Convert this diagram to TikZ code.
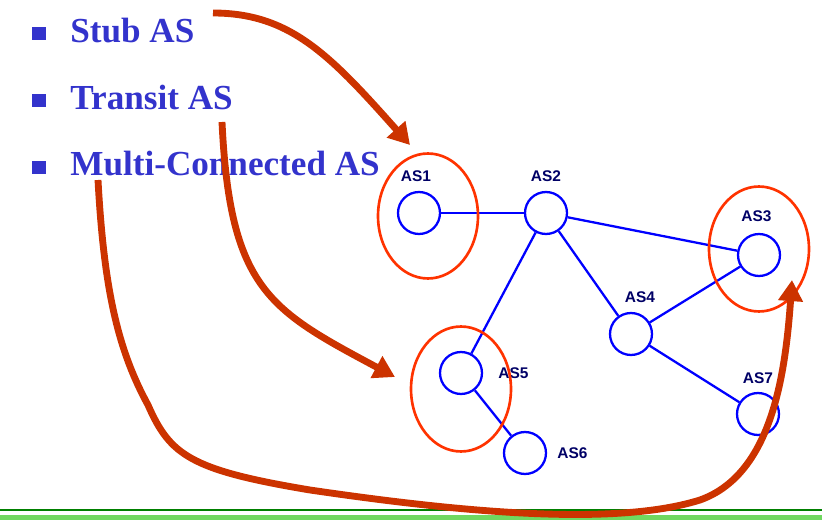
\documentclass[tikz,border=0pt]{standalone}
\usepackage{fontspec}
\setmainfont{Liberation Serif}
\newfontfamily\asfont{Liberation Sans}
\usetikzlibrary{positioning, shapes.geometric, arrows.meta}
\definecolor{itemblue}{HTML}{3333CC}
\definecolor{netblue}{HTML}{0000FF}
\definecolor{asnavy}{HTML}{000066}
\definecolor{arrred}{HTML}{CC3300}
\definecolor{ringred}{HTML}{FF3300}
\definecolor{rulegreen}{HTML}{008000}
\definecolor{bandgreen}{HTML}{70D860}
\tikzset{asnode/.style={circle, draw=netblue, line width=1.3pt, minimum size=0.84cm, inner sep=0}}
\tikzset{aslabel/.style={text=asnavy, font=\asfont\bfseries\fontsize{8.8}{10}\selectfont, inner sep=0}}
\tikzset{aslink/.style={draw=netblue, line width=1.3pt}}
\tikzset{ring/.style={ellipse, draw=ringred, line width=1.5pt, minimum width=2cm, minimum height=2.5cm}}
\tikzset{bigarr/.style={draw=arrred, line width=3.9pt, -{Triangle[length=12pt, width=13.5pt]}}}
\tikzset{sqbullet/.style={fill=itemblue, minimum size=7.4pt, inner sep=0}}
\tikzset{itemtext/.style={text=itemblue, font=\bfseries\fontsize{20}{24}\selectfont, anchor=base west, inner sep=0}}

\begin{document}
\begin{tikzpicture}[x=0.02cm, y=-0.02cm]
	\useasboundingbox (0,0) rectangle (822,520);
	% bottom rules
	\fill[bandgreen] (0,514.5) rectangle (822,520);
	\draw[rulegreen, line width=0.9pt] (0,510) -- (822,510);
	% list
	\node[sqbullet] (b1) at (39,34) {};
	\node[sqbullet] (b2) at (39,101) {};
	\node[sqbullet] (b3) at (39,168) {};
	\node[itemtext] (stub) at (70,43) {Stub AS};
	\node[itemtext] (transit) at (70,110) {Transit AS};
	\node[itemtext] (multi) at (70,176) {Multi-Connected AS};
	% autonomous systems
	\node[asnode] (as1) at (419,213) {};
	\node[asnode] (as2) at (546,213) {};
	\node[asnode] (as3) at (759,255) {};
	\node[asnode] (as4) at (631,334) {};
	\node[asnode] (as5) at (461,373) {};
	\node[asnode] (as6) at (525,453) {};
	\node[asnode] (as7) at (758,414) {};
	\node[aslabel, above=0.18cm of as1, xshift=-0.06cm] (l1) {AS1};
	\node[aslabel, above=0.18cm of as2] (l2) {AS2};
	\node[aslabel, above=0.22cm of as3, xshift=-0.05cm] (l3) {AS3};
	\node[aslabel, above=0.18cm of as4, xshift=0.18cm] (l4) {AS4};
	\node[aslabel, right=0.3cm of as5] (l5) {AS5};
	\node[aslabel, right=0.2cm of as6] (l6) {AS6};
	\node[aslabel, above=0.16cm of as7] (l7) {AS7};
	\draw[aslink] (as1) -- (as2);
	\draw[aslink] (as2) -- (as3);
	\draw[aslink] (as2) -- (as4);
	\draw[aslink] (as2) -- (as5);
	\draw[aslink] (as4) -- (as3);
	\draw[aslink] (as4) -- (as7);
	\draw[aslink] (as5) -- (as6);
	% groups
	\node[ring] (stubring) at (428,216) {};
	\node[ring] (multiring) at (759,249) {};
	\node[ring] (transitring) at (461,389) {};
	% pointers
	\coordinate (s1) at (213,13);
	\coordinate (t1) at (410,145);
	\coordinate (s2) at (222,122);
	\coordinate (t2) at (395,377);
	\coordinate (s3) at (98,180);
	\coordinate (t3) at (792,280);
	\draw[bigarr] (s1) .. controls (290,13) and (330,55) .. (t1);
	\draw[bigarr] (s2) .. controls (230,290) and (270,310) .. (t2);
	\draw[bigarr] (s3) .. controls (104,290) and (118,350) .. (148,405)
		.. controls (170,455) and (190,470) .. (310,490)
		.. controls (480,515) and (620,525) .. (700,500)
		.. controls (770,475) and (785,380) .. (t3);
\end{tikzpicture}
\end{document}
